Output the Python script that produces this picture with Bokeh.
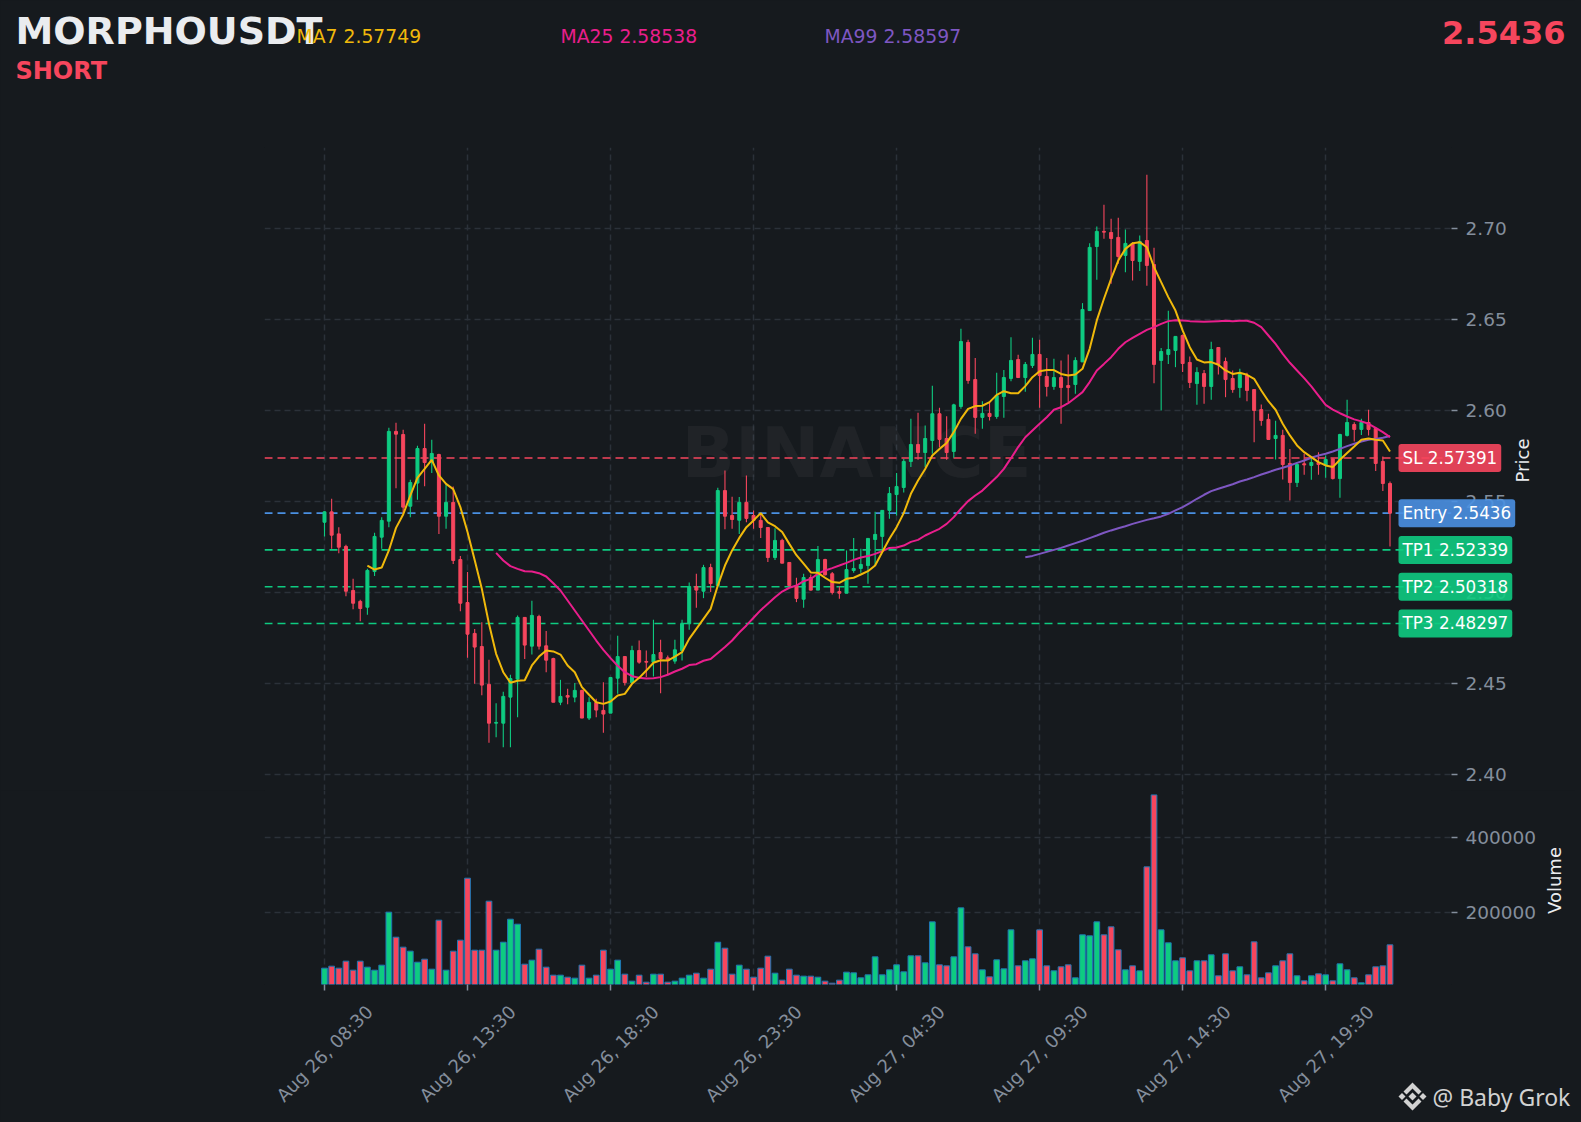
from math import pi
from bokeh.plotting import figure
from bokeh.layouts import column
from bokeh.models import (ColumnDataSource, FixedTicker, Label, LinearAxis, NumeralTickFormatter,
                          Range1d, Span)
from bokeh.embed import file_html
from bokeh.resources import INLINE

opens = [2.5386,2.5443,2.5322,2.5253,2.5011,2.4951,2.4919,2.5115,2.5304,2.5392,
2.5885,2.5868,2.5474,2.5601,2.5791,2.5714,2.5758,2.5419,2.5495,2.5181,
2.4945,2.4775,2.4703,2.4495,2.4282,2.4282,2.4425,2.4524,2.4863,2.4705,
2.4868,2.4707,2.4637,2.4397,2.4434,2.4425,2.4462,2.4310,2.4396,2.4352,
2.4337,2.4529,2.4648,2.4505,2.4681,2.4621,2.4617,2.4670,2.4641,2.4623,
2.4681,2.4828,2.5033,2.5007,2.5137,2.5038,2.5560,2.5423,2.5397,2.5495,
2.5423,2.5396,2.5357,2.5192,2.5286,2.5165,2.5038,2.4963,2.5082,2.5013,
2.5181,2.5103,2.5005,2.4996,2.5121,2.5132,2.5148,2.5291,2.5308,2.5451,
2.5538,2.5577,2.5720,2.5813,2.5769,2.5835,2.5982,2.5846,2.5775,2.6022,
2.6374,2.6170,2.5962,2.5984,2.5967,2.6077,2.6176,2.6280,2.6181,2.6247,
2.6308,2.6187,2.6132,2.6181,2.6137,2.6143,2.6267,2.6549,2.6901,2.6984,
2.6978,2.6951,2.6852,2.6916,2.6819,2.6934,2.6802,2.6275,2.6308,2.6330,
2.6412,2.6264,2.6148,2.6203,2.6132,2.6346,2.6269,2.6176,2.6126,2.6192,
2.6115,2.6005,2.5951,2.5846,2.5863,2.5709,2.5604,2.5707,2.5698,2.5714,
2.5698,2.5734,2.5626,2.5863,2.5923,2.5896,2.5934,2.5901,2.5720,2.5599]
closes = [2.5443,2.5315,2.5249,2.5007,2.4941,2.4912,2.5121,2.5308,2.5396,2.5885,
2.5870,2.5469,2.5604,2.5791,2.5714,2.5764,2.5419,2.5495,2.5176,2.4941,
2.4771,2.4700,2.4491,2.4282,2.4286,2.4429,2.4527,2.4863,2.4711,2.4874,
2.4705,2.4628,2.4397,2.4429,2.4425,2.4462,2.4310,2.4396,2.4354,2.4332,
2.4533,2.4648,2.4505,2.4681,2.4617,2.4617,2.4659,2.4637,2.4626,2.4685,
2.4828,2.5033,2.5013,2.5137,2.5049,2.5560,2.5419,2.5401,2.5495,2.5407,
2.5396,2.5357,2.5192,2.5286,2.5161,2.5038,2.4967,2.5082,2.5013,2.5181,
2.5097,2.5000,2.4996,2.5126,2.5132,2.5154,2.5297,2.5319,2.5451,2.5544,
2.5582,2.5720,2.5813,2.5769,2.5846,2.5982,2.5841,2.5769,2.6031,2.6379,
2.6165,2.5962,2.5984,2.5967,2.6082,2.6181,2.6275,2.6181,2.6253,2.6308,
2.6192,2.6132,2.6181,2.6126,2.6126,2.6275,2.6555,2.6896,2.6984,2.6980,
2.6945,2.6846,2.6918,2.6824,2.6929,2.6797,2.6253,2.6324,2.6335,2.6407,
2.6258,2.6154,2.6209,2.6132,2.6335,2.6253,2.6170,2.6115,2.6198,2.6110,
2.6000,2.5945,2.5841,2.5863,2.5703,2.5604,2.5703,2.5701,2.5714,2.5703,
2.5731,2.5626,2.5868,2.5934,2.5896,2.5934,2.5896,2.5709,2.5599,2.5436]
highs = [2.5447,2.5515,2.5359,2.5262,2.5075,2.4960,2.5130,2.5328,2.5414,2.5905,
2.5932,2.5894,2.5619,2.5806,2.5927,2.5839,2.5762,2.5597,2.5582,2.5201,
2.5112,2.4800,2.4837,2.4630,2.4392,2.4454,2.4548,2.4874,2.4865,2.4954,
2.4877,2.4789,2.4641,2.4520,2.4471,2.4502,2.4465,2.4425,2.4416,2.4507,
2.4535,2.4762,2.4648,2.4707,2.4736,2.4681,2.4850,2.4740,2.4654,2.4740,
2.4850,2.5055,2.5103,2.5152,2.5158,2.5575,2.5670,2.5526,2.5524,2.5643,
2.5451,2.5432,2.5357,2.5353,2.5295,2.5165,2.5081,2.5103,2.5099,2.5256,
2.5185,2.5112,2.5033,2.5231,2.5300,2.5240,2.5297,2.5443,2.5451,2.5579,
2.5656,2.5734,2.5954,2.5987,2.5918,2.6136,2.6015,2.5969,2.6037,2.6449,
2.6388,2.6289,2.6051,2.6042,2.6207,2.6223,2.6403,2.6306,2.6267,2.6399,
2.6388,2.6289,2.6284,2.6275,2.6308,2.6293,2.6590,2.6919,2.7011,2.7130,
2.7053,2.7059,2.6995,2.6925,2.6962,2.7295,2.6894,2.6344,2.6548,2.6407,
2.6418,2.6297,2.6238,2.6223,2.6377,2.6346,2.6291,2.6220,2.6229,2.6207,
2.6115,2.6033,2.5982,2.5943,2.5894,2.5789,2.5716,2.5762,2.5734,2.5771,
2.5753,2.5738,2.5872,2.6059,2.5936,2.5954,2.6004,2.5908,2.5747,2.5610]
lows = [2.5308,2.5240,2.5216,2.4980,2.4908,2.4842,2.4877,2.5090,2.5240,2.5359,
2.5573,2.5432,2.5414,2.5509,2.5584,2.5656,2.5322,2.5350,2.5156,2.4897,
2.4641,2.4498,2.4436,2.4174,2.4205,2.4150,2.4150,2.4315,2.4634,2.4659,
2.4687,2.4562,2.4397,2.4381,2.4386,2.4397,2.4310,2.4299,2.4315,2.4229,
2.4337,2.4443,2.4489,2.4498,2.4608,2.4535,2.4538,2.4447,2.4549,2.4608,
2.4626,2.4795,2.4916,2.4969,2.5002,2.5029,2.5348,2.5350,2.5322,2.5386,
2.5350,2.5300,2.5167,2.5179,2.5161,2.5038,2.4947,2.4916,2.5011,2.5013,
2.5093,2.4989,2.4965,2.4996,2.5108,2.5108,2.5048,2.5148,2.5231,2.5405,
2.5423,2.5549,2.5689,2.5729,2.5689,2.5762,2.5799,2.5729,2.5740,2.6009,
2.6147,2.5872,2.5899,2.5945,2.5954,2.5960,2.6161,2.6181,2.6103,2.6233,
2.6015,2.6077,2.6114,2.5927,2.6046,2.6092,2.6267,2.6549,2.6718,2.6943,
2.6696,2.6806,2.6760,2.6714,2.6766,2.6685,2.6150,2.6000,2.6255,2.6238,
2.6212,2.6123,2.6031,2.6037,2.6059,2.6198,2.6073,2.6097,2.6070,2.6051,
2.5826,2.5916,2.5841,2.5731,2.5621,2.5505,2.5579,2.5647,2.5619,2.5647,
2.5630,2.5621,2.5520,2.5857,2.5830,2.5866,2.5863,2.5667,2.5557,2.5253]
volumes = [52200,57500,52200,70800,46900,70800,54900,46900,60200,200900,
134500,108000,97400,68100,76100,49600,179700,46900,97400,126600,
291200,100000,100000,230100,100000,121200,182300,169000,62800,73500,
102700,54900,33600,33600,28300,25700,60200,25700,33600,100000,
49600,73500,36300,17700,33600,15000,36300,36300,15000,17700,
25700,33600,38900,25700,49600,121200,105300,36300,60200,49600,
28300,52200,84100,38900,20400,49600,33600,31000,31000,28300,
17700,12400,20400,41600,39800,26600,34500,82300,34500,47800,
61100,42500,85000,85000,66400,175200,61100,58400,82300,212400,
108900,90300,47800,29200,74300,50400,154000,58400,71700,77000,
154000,58400,45100,55800,61100,26600,140700,138100,175200,140700,
162000,100900,47800,58400,45100,321300,512400,154000,119500,71700,
79700,45100,71700,71700,87600,31900,90300,45100,55800,34500,
122100,26600,39800,58400,71700,90300,31900,18600,31900,37200,
34500,18600,63700,47800,26600,13300,34500,55800,58400,114200]
ma7_start = 6
ma7 = [2.5148,2.5126,2.5137,2.5231,2.5355,2.5429,2.5533,2.5630,2.5679,2.5729,
2.5643,2.5597,2.5568,2.5469,2.5332,2.5179,2.5020,2.4828,2.4663,2.4562,
2.4504,2.4515,2.4518,2.4599,2.4648,2.4681,2.4676,2.4659,2.4599,2.4562,
2.4480,2.4438,2.4397,2.4388,2.4401,2.4434,2.4443,2.4498,2.4531,2.4571,
2.4614,2.4628,2.4626,2.4648,2.4672,2.4745,2.4800,2.4855,2.4910,2.5038,
2.5148,2.5231,2.5300,2.5359,2.5396,2.5436,2.5385,2.5364,2.5332,2.5267,
2.5205,2.5158,2.5110,2.5108,2.5081,2.5057,2.5053,2.5075,2.5081,2.5099,
2.5117,2.5148,2.5222,2.5295,2.5359,2.5436,2.5542,2.5615,2.5679,2.5753,
2.5789,2.5821,2.5881,2.5954,2.6009,2.6024,2.6026,2.6046,2.6086,2.6106,
2.6095,2.6095,2.6134,2.6183,2.6216,2.6222,2.6222,2.6201,2.6192,2.6198,
2.6229,2.6339,2.6495,2.6614,2.6723,2.6824,2.6888,2.6919,2.6925,2.6897,
2.6788,2.6705,2.6623,2.6549,2.6440,2.6348,2.6280,2.6264,2.6266,2.6251,
2.6220,2.6201,2.6207,2.6196,2.6174,2.6110,2.6051,2.6004,2.5927,2.5863,
2.5808,2.5771,2.5744,2.5716,2.5698,2.5689,2.5729,2.5766,2.5802,2.5839,
2.5846,2.5839,2.5835,2.57749]
ma25_start = 24
ma25 = [2.5218,2.5176,2.5145,2.5130,2.5117,2.5115,2.5106,2.5088,2.5051,2.5011,
2.4956,2.4901,2.4846,2.4791,2.4736,2.4685,2.4639,2.4597,2.4562,2.4540,
2.4531,2.4527,2.4529,2.4535,2.4548,2.4566,2.4581,2.4601,2.4606,2.4625,
2.4634,2.4667,2.4700,2.4736,2.4780,2.4819,2.4861,2.4903,2.4938,2.4974,
2.5005,2.5026,2.5038,2.5062,2.5075,2.5103,2.5121,2.5134,2.5148,2.5163,
2.5179,2.5192,2.5200,2.5212,2.5227,2.5245,2.5247,2.5258,2.5278,2.5289,
2.5313,2.5332,2.5350,2.5377,2.5414,2.5460,2.5502,2.5533,2.5560,2.5597,
2.5634,2.5679,2.5738,2.5799,2.5853,2.5890,2.5927,2.5963,2.6004,2.6018,
2.6040,2.6070,2.6101,2.6156,2.6220,2.6256,2.6293,2.6339,2.6375,2.6399,
2.6421,2.6443,2.6458,2.6476,2.6491,2.6496,2.6495,2.6491,2.6489,2.6487,
2.6489,2.6491,2.6493,2.6491,2.6493,2.6493,2.6482,2.6458,2.6412,2.6366,
2.6311,2.6262,2.6220,2.6178,2.6132,2.6082,2.6031,2.6005,2.5985,2.5967,
2.5951,2.5940,2.5927,2.5905,2.5881,2.58538]
ma99_start = 98
ma99 = [2.5194,2.5201,2.5212,2.5223,2.5234,2.5245,2.5258,2.5271,2.5284,2.5299,
2.5313,2.5328,2.5341,2.5353,2.5364,2.5377,2.5388,2.5399,2.5408,2.5418,
2.5432,2.5451,2.5469,2.5491,2.5515,2.5537,2.5557,2.5570,2.5582,2.5595,
2.5610,2.5621,2.5634,2.5648,2.5661,2.5674,2.5685,2.5698,2.5712,2.5725,
2.5740,2.5753,2.5762,2.5775,2.5789,2.5804,2.5817,2.5830,2.5839,2.5844,
2.5850,2.58597]
x_tick_positions = [0, 20, 40, 60, 80, 100, 120, 140]
x_tick_labels = ["Aug 26, 08:30", "Aug 26, 13:30", "Aug 26, 18:30", "Aug 26, 23:30",
                 "Aug 27, 04:30", "Aug 27, 09:30", "Aug 27, 14:30", "Aug 27, 19:30"]
price_ticks = [2.40, 2.45, 2.50, 2.55, 2.60, 2.65, 2.70]
volume_ticks = [200000, 400000]
level_names = ["SL 2.57391", "Entry 2.5436", "TP1 2.52339", "TP2 2.50318", "TP3 2.48297"]
level_values = [2.57391, 2.5436, 2.52339, 2.50318, 2.48297]

BG = "#161a1e"; GRID = "#2b3139"; TICK = "#848e9c"; GREEN = "#0ecb81"; RED = "#f6465d"; BLUE = "#4a90e2"
level_colors = [RED, BLUE, GREEN, GREEN, GREEN]
FONT = "DejaVu Sans"

idx = list(range(len(closes)))
colors = [GREEN if c >= o else RED for o, c in zip(opens, closes)]
src = ColumnDataSource(dict(x=idx, o=opens, h=highs, l=lows, c=closes, v=volumes, color=colors,
                            top=[max(a, b) for a, b in zip(opens, closes)],
                            bot=[min(a, b) for a, b in zip(opens, closes)]))

W = 1575
LEFT, RIGHT = 264, 124
PH, VH = 790, 330
xr = Range1d(-8.39, 157.6)

def style(p, ticks):
    p.background_fill_color = BG
    p.border_fill_color = BG
    p.outline_line_color = None
    p.xgrid.ticker = FixedTicker(ticks=x_tick_positions)
    for g in (p.xgrid[0], p.ygrid[0]):
        g.grid_line_color = GRID
        g.grid_line_dash = "6 4"
        g.grid_line_width = 1.5
    ax = LinearAxis(ticker=FixedTicker(ticks=ticks))
    ax.axis_line_color = None
    ax.major_tick_line_color = TICK
    ax.major_tick_line_width = 1.5
    ax.major_tick_out = 6
    ax.major_tick_in = 0
    ax.minor_tick_line_color = None
    ax.major_label_text_color = TICK
    ax.major_label_text_font = FONT
    ax.major_label_text_font_size = "18.5px"
    ax.major_label_standoff = 8
    p.add_layout(ax, "right")
    p.ygrid.ticker = FixedTicker(ticks=ticks)
    return ax

# ---------- price panel
p = figure(width=W, height=PH, x_range=xr, y_range=Range1d(2.3912, 2.7445), output_backend="svg",
           toolbar_location=None, x_axis_location=None, y_axis_location=None,
           min_border_left=LEFT, min_border_right=RIGHT, min_border_top=147, min_border_bottom=0)
ax = style(p, price_ticks)
ax.formatter = NumeralTickFormatter(format="0.00")

p.add_layout(Label(x=856, y=452, x_units="canvas", y_units="canvas", text="BINANCE", text_color="#ffffff",
                   text_alpha=0.045, text_font=FONT, text_font_style="bold", text_font_size="70px",
                   text_align="center", text_baseline="middle", level="underlay"))

for val, col in zip(level_values, level_colors):
    p.add_layout(Span(location=val, dimension="width", line_color=col, line_dash="8 5",
                      line_width=1.6, level="underlay"))

p.segment("x", "h", "x", "l", source=src, color="color", line_width=1.1)
p.vbar("x", 0.42, "top", "bot", source=src, fill_color="color", line_color="color", line_width=1)

p.line(list(range(ma99_start, ma99_start + len(ma99))), ma99, line_color="#7e57c2", line_width=2)
p.line(list(range(ma25_start, ma25_start + len(ma25))), ma25, line_color="#e91e8c", line_width=2)
p.line(list(range(ma7_start, ma7_start + len(ma7))), ma7, line_color="#f0b90b", line_width=2)

# ---------- volume panel
q = figure(width=W, height=VH, x_range=xr, y_range=Range1d(8850, 524100), output_backend="svg",
           toolbar_location=None, x_axis_location=None, y_axis_location=None,
           min_border_left=LEFT, min_border_right=RIGHT, min_border_top=0, min_border_bottom=136)
ay = style(q, volume_ticks)
ay.formatter = NumeralTickFormatter(format="0")
q.vbar("x", 0.8, "v", 0, source=src, fill_color="color", line_color="#1f77b4", line_width=1)

xa = LinearAxis(ticker=FixedTicker(ticks=x_tick_positions),
                major_label_overrides={t: "" for t in x_tick_positions})
xa.axis_line_color = None
xa.major_tick_line_color = TICK
xa.major_tick_line_width = 1.5
xa.major_tick_out = 6
xa.major_tick_in = 0
xa.minor_tick_line_color = None
q.add_layout(xa, "below")

# ---------- transparent sheet over the whole page for the texts that lie outside the plot frames
TOTAL_H = PH + VH
o = figure(width=W, height=TOTAL_H, output_backend="svg", toolbar_location=None,
           x_range=Range1d(0, W), y_range=Range1d(TOTAL_H, 0), x_axis_location=None, y_axis_location=None,
           min_border_left=0, min_border_right=0, min_border_top=0, min_border_bottom=0,
           margin=(-TOTAL_H, 0, 0, 0))
o.background_fill_alpha = 0
o.border_fill_alpha = 0
o.outline_line_color = None
o.grid.visible = False

def txt(s, x, y, size, color, bold=False, align="left", font=FONT, angle=0):
    o.add_layout(Label(x=x, y=y, text=s, text_color=color, text_font=font, text_font_size=size,
                       text_font_style="bold" if bold else "normal", text_align=align,
                       text_baseline="middle", angle=angle))

txt("MORPHOUSDT", 15, 30, "38px", "#eaecef", True)
txt("SHORT", 15, 70, "24px", RED, True)
txt("MA7 2.57749", 296, 36, "18.8px", "#f0b90b")
txt("MA25 2.58538", 560, 36, "18.8px", "#e91e8c")
txt("MA99 2.58597", 824, 36, "18.8px", "#7e57c2")
txt("2.5436", 1565, 32, "32px", RED, True, "right")
txt("Price", 1522, 460, "18px", "#eaecef", False, "center", angle=pi / 2)
txt("Volume", 1554, 880, "18px", "#eaecef", False, "center", angle=pi / 2)
txt("@ Baby Grok", 1432, 1096, "23px", "#d2d2d2", font="Noto Sans")

PX_PER_PRICE = 1820
for name, val, col in zip(level_names, level_values, level_colors):
    y = 410 + (2.60 - val) * PX_PER_PRICE
    o.add_layout(Label(x=1398, y=y, text=name, text_color="#ffffff", text_font=FONT, text_font_size="16.8px",
                       text_baseline="middle", text_align="left", background_fill_color=col,
                       background_fill_alpha=0.9, padding=4, border_radius=3))

PX_PER_BAR = 7.15
for t, s in zip(x_tick_positions, x_tick_labels):
    o.add_layout(Label(x=324 + t * PX_PER_BAR, y=1053, text=s, text_color=TICK, text_font=FONT,
                       text_font_size="18px", text_align="center", text_baseline="middle", angle=pi / 4))

cx, cy = 1412, 1096
logo = [[(0,-14),(9,-5),(6,-2),(0,-8),(-6,-2),(-9,-5)], [(0,14),(9,5),(6,2),(0,8),(-6,2),(-9,5)],
        [(-14,0),(-10.5,-3.5),(-7,0),(-10.5,3.5)], [(14,0),(10.5,-3.5),(7,0),(10.5,3.5)],
        [(0,-4),(4,0),(0,4),(-4,0)]]
o.patches([[cx + a for a, b in s] for s in logo], [[cy + b for a, b in s] for s in logo],
          fill_color="#d2d2d2", line_color=None)

page = column(p, q, spacing=0)
html = file_html([page, o], INLINE).replace("<head>", "<head><style>html,body{background:#161a1e}</style>", 1)
open("out.html", "w").write(html)
